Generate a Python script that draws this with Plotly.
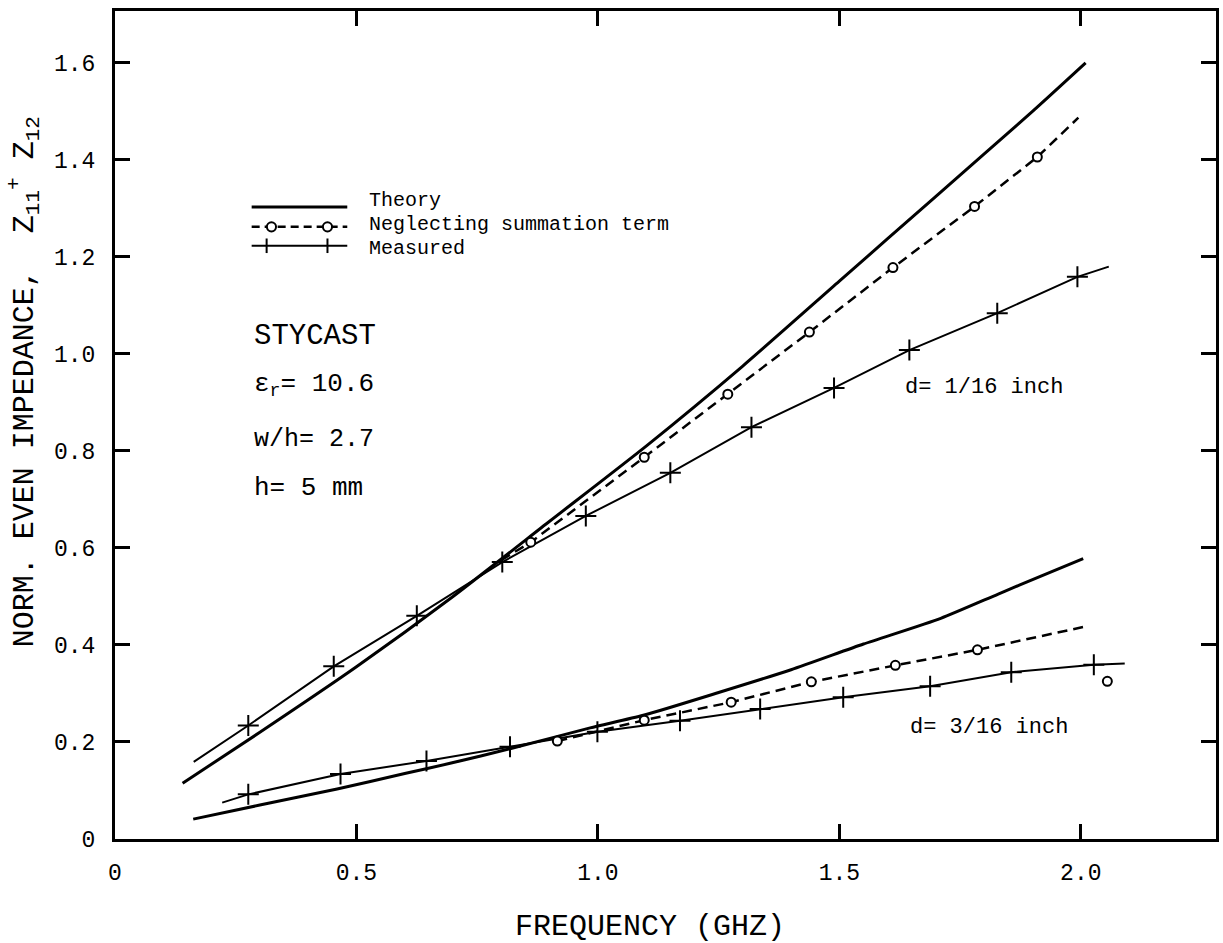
import plotly.graph_objects as go

# ---------------- data ----------------
# d = 1/16 inch
theory_116_x = [0.14, 0.30, 0.50, 0.70, 0.90, 1.10, 1.30, 1.50, 1.70, 1.90, 2.01]
theory_116_y = [0.115, 0.22, 0.355, 0.50, 0.655, 0.81, 0.975, 1.15, 1.325, 1.50, 1.60]

neglect_116_x = [0.80, 0.861, 1.096, 1.269, 1.438, 1.611, 1.780, 1.910, 1.995]
neglect_116_y = [0.575, 0.612, 0.787, 0.917, 1.045, 1.178, 1.304, 1.406, 1.487]

measured_116_x = [0.163, 0.276, 0.453, 0.625, 0.802, 0.975, 1.150, 1.318, 1.489, 1.645, 1.827, 1.993, 2.058]
measured_116_y = [0.159, 0.234, 0.356, 0.460, 0.571, 0.666, 0.755, 0.849, 0.930, 1.008, 1.084, 1.159, 1.180]

# d = 3/16 inch
theory_316_x = [0.162, 0.30, 0.46, 0.60, 0.694, 0.818, 0.984, 1.094, 1.25, 1.40, 1.55, 1.71, 1.829, 1.92, 2.005]
theory_316_y = [0.041, 0.070, 0.103, 0.135, 0.156, 0.186, 0.229, 0.255, 0.302, 0.349, 0.402, 0.455, 0.505, 0.543, 0.578]

neglect_316_x = [0.916, 1.096, 1.276, 1.442, 1.616, 1.786, 2.005]
neglect_316_y = [0.202, 0.245, 0.282, 0.324, 0.358, 0.390, 0.437]

neglect_316_extra_x = [2.055]
neglect_316_extra_y = [0.325]

measured_316_x = [0.222, 0.276, 0.467, 0.645, 0.818, 0.999, 1.170, 1.336, 1.508, 1.688, 1.856, 2.027, 2.091]
measured_316_y = [0.075, 0.092, 0.134, 0.161, 0.190, 0.221, 0.244, 0.268, 0.292, 0.315, 0.344, 0.359, 0.362]

x_tick_vals = [0, 0.5, 1.0, 1.5, 2.0]
x_tick_text = ["0", "0.5", "1.0", "1.5", "2.0"]
y_tick_vals = [0, 0.2, 0.4, 0.6, 0.8, 1.0, 1.2, 1.4, 1.6]
y_tick_text = ["0", "0.2", "0.4", "0.6", "0.8", "1.0", "1.2", "1.4", "1.6"]

legend_labels = ["Theory", "Neglecting summation term", "Measured"]

# ---------------- figure ----------------
FONT = "Liberation Mono, Courier New, monospace"
INK = "black"

fig = go.Figure()


def add_line(x, y, width, dash="solid", shape="linear"):
    fig.add_trace(go.Scatter(
        x=x, y=y, mode="lines",
        line=dict(color=INK, width=width, dash=dash, shape=shape,
                  smoothing=0.6 if shape == "spline" else None),
        hoverinfo="skip", showlegend=False))


def add_circles(x, y):
    fig.add_trace(go.Scatter(
        x=x, y=y, mode="markers",
        marker=dict(symbol="circle", size=9, color="white",
                    line=dict(color=INK, width=2)),
        hoverinfo="skip", showlegend=False))


def add_crosses(x, y):
    fig.add_trace(go.Scatter(
        x=x, y=y, mode="markers",
        marker=dict(symbol="cross-thin", size=15, color=INK,
                    line=dict(color=INK, width=2)),
        hoverinfo="skip", showlegend=False))


DASH = "10px,6px"

# d = 1/16
add_line(theory_116_x, theory_116_y, 3, shape="spline")
add_line(neglect_116_x, neglect_116_y, 2.5, dash=DASH)
add_line(measured_116_x, measured_116_y, 2)
# d = 3/16
add_line(theory_316_x, theory_316_y, 3, shape="spline")
add_line(neglect_316_x, neglect_316_y, 2.5, dash=DASH)
add_line(measured_316_x, measured_316_y, 2)

add_circles(neglect_116_x[1:-1], neglect_116_y[1:-1])
add_circles(neglect_316_x[:-1], neglect_316_y[:-1])
add_circles(neglect_316_extra_x, neglect_316_extra_y)
add_crosses(measured_116_x[1:-1], measured_116_y[1:-1])
add_crosses(measured_316_x[1:-1], measured_316_y[1:-1])

# ---------------- custom legend (decoration) ----------------
LX0, LX1 = 0.283, 0.481
LY = [1.303, 1.262, 1.223]
shapes = [
    dict(type="line", xref="x", yref="y", x0=LX0, x1=LX1, y0=LY[0], y1=LY[0],
         line=dict(color=INK, width=3)),
    dict(type="line", xref="x", yref="y", x0=LX0, x1=LX1, y0=LY[1], y1=LY[1],
         line=dict(color=INK, width=2.5, dash="8px,5px")),
    dict(type="line", xref="x", yref="y", x0=LX0, x1=LX1, y0=LY[2], y1=LY[2],
         line=dict(color=INK, width=2)),
]
r = 0.0095
for cx in (0.324, 0.440):
    shapes.append(dict(type="circle", xref="x", yref="y",
                       x0=cx - r, x1=cx + r, y0=LY[1] - r, y1=LY[1] + r,
                       fillcolor="white", line=dict(color=INK, width=2)))
for cx in (0.314, 0.440):
    shapes.append(dict(type="line", xref="x", yref="y",
                       x0=cx, x1=cx, y0=LY[2] - 0.015, y1=LY[2] + 0.015,
                       line=dict(color=INK, width=2)))

annotations = []
for lab, yy in zip(legend_labels, [1.317, 1.267, 1.218]):
    annotations.append(dict(x=0.523, y=yy, xref="x", yref="y", text=lab,
                            showarrow=False, xanchor="left", yanchor="middle",
                            borderpad=0,
                            font=dict(family=FONT, size=20, color=INK)))

info = [
    ("STYCAST", 1.035, 29),
    ("\u03b5<sub>r</sub>= 10.6", 0.935, 26),
    ("w/h= 2.7", 0.823, 25),
    ("h= 5 mm", 0.724, 26),
]
for txt, yy, sz in info:
    annotations.append(dict(x=0.283, y=yy, xref="x", yref="y", text=txt,
                            showarrow=False, xanchor="left", yanchor="middle",
                            font=dict(family=FONT, size=sz, color=INK)))

annotations.append(dict(x=1.632, y=0.93, xref="x", yref="y", text="d= 1/16 inch",
                        showarrow=False, xanchor="left", yanchor="middle",
                        font=dict(family=FONT, size=22, color=INK)))
annotations.append(dict(x=1.643, y=0.229, xref="x", yref="y", text="d= 3/16 inch",
                        showarrow=False, xanchor="left", yanchor="middle",
                        font=dict(family=FONT, size=22, color=INK)))

# axis titles
annotations.append(dict(x=-0.0824, y=0.552, xref="paper", yref="paper",
                        text="NORM. EVEN IMPEDANCE,\u00a0\u00a0Z<sub>11</sub><sup>+</sup> Z<sub>12</sub>",
                        textangle=-90, showarrow=False,
                        xanchor="center", yanchor="middle",
                        font=dict(family=FONT, size=30, color=INK)))
annotations.append(dict(x=0.486, y=-0.106, xref="paper", yref="paper",
                        text="FREQUENCY (GHZ)", showarrow=False,
                        xanchor="center", yanchor="middle",
                        font=dict(family=FONT, size=30, color=INK)))

axis_common = dict(
    showgrid=False, zeroline=False, showline=True, linecolor=INK, linewidth=3,
    mirror="ticks", ticks="inside", ticklen=15, tickwidth=2.5, tickcolor=INK,
    tickfont=dict(family=FONT, size=23, color=INK),
)

fig.update_layout(
    width=1223, height=943, autosize=False,
    margin=dict(l=115, r=4, t=11, b=104),
    paper_bgcolor="white", plot_bgcolor="white",
    showlegend=False,
    xaxis=dict(range=[0, 2.28], tickmode="array", tickvals=x_tick_vals,
               ticktext=x_tick_text, ticklabelstandoff=10, **axis_common),
    yaxis=dict(range=[0, 1.707], tickmode="array", tickvals=y_tick_vals,
               ticktext=y_tick_text, ticklabelstandoff=12, **axis_common),
    shapes=shapes,
    annotations=annotations,
)

fig.write_html("out.html", config={"displayModeBar": False},
               post_script="document.body.style.margin='0';")
